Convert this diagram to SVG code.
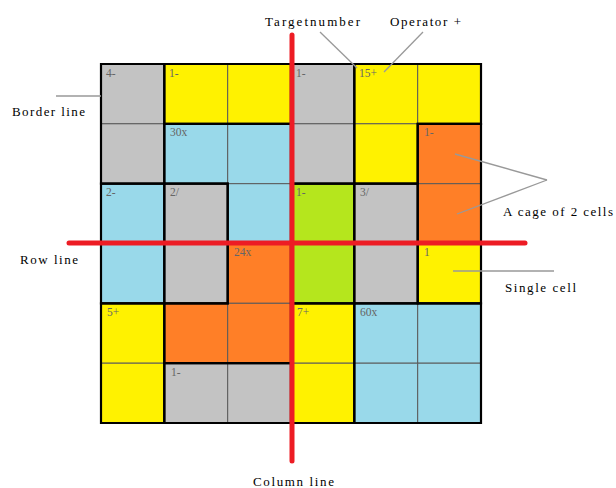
<svg xmlns="http://www.w3.org/2000/svg" width="616" height="488" viewBox="0 0 616 488">
<style>
.g{fill:#c3c3c3}.y{fill:#fff200}.b{fill:#99d9ea}.o{fill:#ff7f27}.gr{fill:#b5e61d}
.cell{stroke:#5a5a5a;stroke-width:1}
.cage{fill:none;stroke:#000;stroke-width:2.2;stroke-linejoin:miter}
.lab{font-family:"Liberation Serif","DejaVu Serif",serif;font-size:11.5px;fill:#666}
.ann{font-family:"Liberation Serif","DejaVu Serif",serif;font-size:13px;fill:#000}
.lead{stroke:#999;stroke-width:1.3;fill:none}
.red{stroke:#ed1c24;stroke-width:5;stroke-linecap:round}
</style>
<rect width="616" height="488" fill="#fff"/>
<g id="cells">
<rect class="cell g" x="101" y="64" width="63.3" height="59.8"/>
<rect class="cell y" x="164.3" y="64" width="63.4" height="59.8"/>
<rect class="cell y" x="227.7" y="64" width="63.3" height="59.8"/>
<rect class="cell g" x="291" y="64" width="63.3" height="59.8"/>
<rect class="cell y" x="354.3" y="64" width="63.4" height="59.8"/>
<rect class="cell y" x="417.7" y="64" width="63.3" height="59.8"/>
<rect class="cell g" x="101" y="123.8" width="63.3" height="59.9"/>
<rect class="cell b" x="164.3" y="123.8" width="63.4" height="59.9"/>
<rect class="cell b" x="227.7" y="123.8" width="63.3" height="59.9"/>
<rect class="cell g" x="291" y="123.8" width="63.3" height="59.9"/>
<rect class="cell y" x="354.3" y="123.8" width="63.4" height="59.9"/>
<rect class="cell o" x="417.7" y="123.8" width="63.3" height="59.9"/>
<rect class="cell b" x="101" y="183.7" width="63.3" height="59.8"/>
<rect class="cell g" x="164.3" y="183.7" width="63.4" height="59.8"/>
<rect class="cell b" x="227.7" y="183.7" width="63.3" height="59.8"/>
<rect class="cell gr" x="291" y="183.7" width="63.3" height="59.8"/>
<rect class="cell g" x="354.3" y="183.7" width="63.4" height="59.8"/>
<rect class="cell o" x="417.7" y="183.7" width="63.3" height="59.8"/>
<rect class="cell b" x="101" y="243.5" width="63.3" height="59.8"/>
<rect class="cell g" x="164.3" y="243.5" width="63.4" height="59.8"/>
<rect class="cell o" x="227.7" y="243.5" width="63.3" height="59.8"/>
<rect class="cell gr" x="291" y="243.5" width="63.3" height="59.8"/>
<rect class="cell g" x="354.3" y="243.5" width="63.4" height="59.8"/>
<rect class="cell y" x="417.7" y="243.5" width="63.3" height="59.8"/>
<rect class="cell y" x="101" y="303.3" width="63.3" height="59.9"/>
<rect class="cell o" x="164.3" y="303.3" width="63.4" height="59.9"/>
<rect class="cell o" x="227.7" y="303.3" width="63.3" height="59.9"/>
<rect class="cell y" x="291" y="303.3" width="63.3" height="59.9"/>
<rect class="cell b" x="354.3" y="303.3" width="63.4" height="59.9"/>
<rect class="cell b" x="417.7" y="303.3" width="63.3" height="59.9"/>
<rect class="cell y" x="101" y="363.2" width="63.3" height="59.8"/>
<rect class="cell g" x="164.3" y="363.2" width="63.4" height="59.8"/>
<rect class="cell g" x="227.7" y="363.2" width="63.3" height="59.8"/>
<rect class="cell y" x="291" y="363.2" width="63.3" height="59.8"/>
<rect class="cell b" x="354.3" y="363.2" width="63.4" height="59.8"/>
<rect class="cell b" x="417.7" y="363.2" width="63.3" height="59.8"/>
</g>
<g id="cages">
<g id="cage-4minus"><path class="cage" d="M101 64H164.3V183.7H101Z"/><text class="lab" x="106" y="77">4-</text></g>
<g id="cage-1minus-a"><path class="cage" d="M164.3 64H291V123.8H164.3Z"/><text class="lab" x="169" y="77">1-</text></g>
<g id="cage-1minus-b"><path class="cage" d="M291 64H354.3V183.7H291Z"/><text class="lab" x="296" y="77">1-</text></g>
<g id="cage-15plus"><path class="cage" d="M354.3 64H481V123.8H417.7V183.7H354.3Z"/><text class="lab" x="359" y="77">15+</text></g>
<g id="cage-30x"><path class="cage" d="M164.3 123.8H291V243.5H227.7V183.7H164.3Z"/><text class="lab" x="170" y="136">30x</text></g>
<g id="cage-1minus-c"><path class="cage" d="M417.7 123.8H481V243.5H417.7Z"/><text class="lab" x="424" y="136">1-</text></g>
<g id="cage-2minus"><path class="cage" d="M101 183.7H164.3V303.3H101Z"/><text class="lab" x="106" y="196">2-</text></g>
<g id="cage-2div"><path class="cage" d="M164.3 183.7H227.7V303.3H164.3Z"/><text class="lab" x="170" y="196">2/</text></g>
<g id="cage-1minus-d"><path class="cage" d="M291 183.7H354.3V303.3H291Z"/><text class="lab" x="296" y="196">1-</text></g>
<g id="cage-3div"><path class="cage" d="M354.3 183.7H417.7V303.3H354.3Z"/><text class="lab" x="360" y="196">3/</text></g>
<g id="cage-24x"><path class="cage" d="M227.7 243.5H291V363.2H164.3V303.3H227.7Z"/><text class="lab" x="234" y="256">24x</text></g>
<g id="cage-1"><path class="cage" d="M417.7 243.5H481V303.3H417.7Z"/><text class="lab" x="424" y="256">1</text></g>
<g id="cage-5plus"><path class="cage" d="M101 303.3H164.3V423H101Z"/><text class="lab" x="107" y="316">5+</text></g>
<g id="cage-7plus"><path class="cage" d="M291 303.3H354.3V423H291Z"/><text class="lab" x="297" y="316">7+</text></g>
<g id="cage-60x"><path class="cage" d="M354.3 303.3H481V423H354.3Z"/><text class="lab" x="360" y="316">60x</text></g>
<g id="cage-1minus-e"><path class="cage" d="M164.3 363.2H291V423H164.3Z"/><text class="lab" x="171" y="376">1-</text></g>
</g>
<g id="connectors">
<line class="lead" x1="320" y1="32" x2="357" y2="68"/>
<line class="lead" x1="423" y1="32" x2="384" y2="72"/>
<line class="lead" x1="56" y1="96" x2="101" y2="96"/>
<line class="lead" x1="455" y1="154" x2="547" y2="180"/>
<line class="lead" x1="457" y1="214" x2="547" y2="180"/>
<line class="lead" x1="453" y1="271" x2="554" y2="271"/>
<line class="red" x1="292" y1="35" x2="292" y2="461"/>
<line class="red" x1="69" y1="243" x2="525" y2="243"/>
</g>
<g id="annotations">
<text class="ann" x="265" y="26" textLength="95" lengthAdjust="spacing">Targetnumber</text>
<text class="ann" x="390" y="26" textLength="71" lengthAdjust="spacing">Operator +</text>
<text class="ann" x="12" y="116" textLength="73" lengthAdjust="spacing">Border line</text>
<text class="ann" x="20" y="264" textLength="58" lengthAdjust="spacing">Row line</text>
<text class="ann" x="503" y="216" textLength="110" lengthAdjust="spacing">A cage of 2 cells</text>
<text class="ann" x="505" y="292" textLength="71" lengthAdjust="spacing">Single cell</text>
<text class="ann" x="253" y="486" textLength="81" lengthAdjust="spacing">Column line</text>
</g>
</svg>
